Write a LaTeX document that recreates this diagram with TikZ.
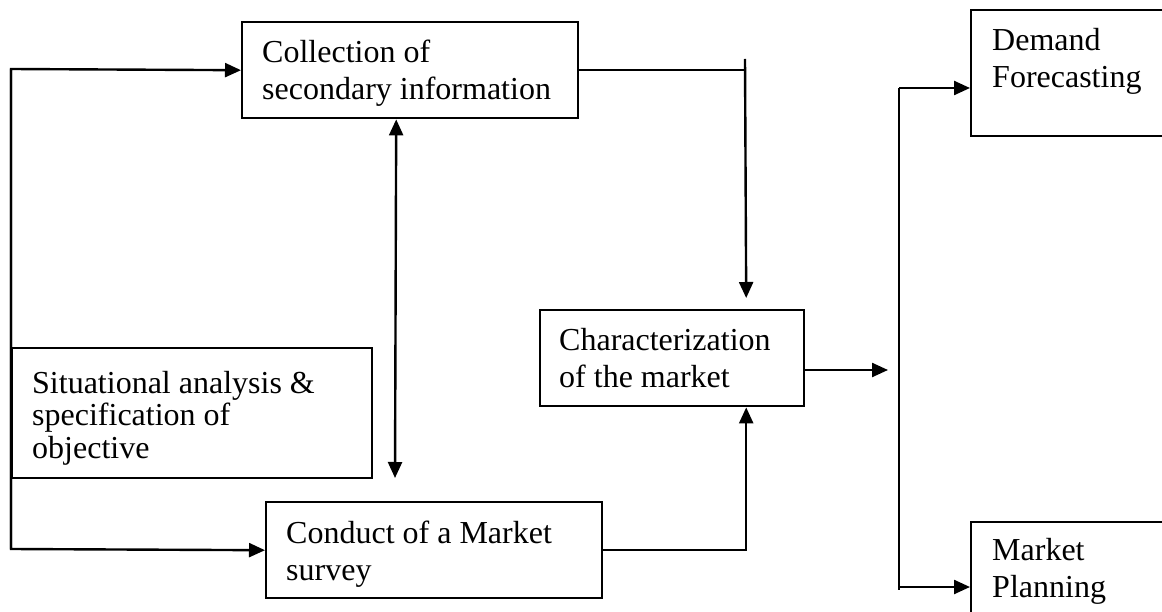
\documentclass[tikz,border=0pt]{standalone}
\usepackage{fontspec}
\setmainfont{Liberation Serif}
\usetikzlibrary{arrows.meta}
\newcommand{\firstline}{\rule{0pt}{26pt}}
\begin{document}
\begin{tikzpicture}[x=1pt,y=-1pt,
  blk/.style={draw, line width=2.4pt, anchor=north west, inner sep=0pt},
  txt/.style={anchor=north west, inner sep=0pt, align=left,
              font=\fontsize{32}{37}\selectfont},
  flow/.style={line width=2.4pt},
  tip/.tip={Triangle[length=16pt,width=14pt]},
  arr/.style={flow, -tip},
  arrboth/.style={flow, tip-tip}]

  % page area
  \fill[white] (0,0) rectangle (1162,612);
  \clip (0,0) rectangle (1162,612);

  % boxes
  \node[blk, minimum width=336pt, minimum height=96pt]  (coll) at (241,21)  {};
  \node[blk, minimum width=360pt, minimum height=130pt] (situ) at (11,347)  {};
  \node[blk, minimum width=336pt, minimum height=96pt]  (cond) at (265,501) {};
  \node[blk, minimum width=264pt, minimum height=96pt]  (char) at (539,309) {};
  \node[blk, minimum width=250pt, minimum height=126pt] (dem)  at (970,9)   {};
  \node[blk, minimum width=250pt, minimum height=120pt] (mkt)  at (970,521) {};

  % box texts
  \node[txt] (collt) at (262,36)  {\firstline Collection of\\secondary information};
  \node[txt, font=\fontsize{32}{32.5}\selectfont] (situt) at (32,367)
        {\firstline Situational analysis \&\\specification of\\objective};
  \node[txt] (condt) at (286,517) {\firstline Conduct of a Market\\survey};
  \node[txt] (chart) at (559,324) {\firstline Characterization\\of the market};
  \node[txt] (demt)  at (992,24)  {\firstline Demand\\Forecasting};
  \node[txt] (mktt)  at (992,534) {\firstline Market\\Planning};

  % junction points
  \coordinate (lt) at (11,69);
  \coordinate (lb) at (11,549);
  \coordinate (dt) at (745,59);
  \coordinate (dbot) at (395,478);
  \coordinate (ce) at (888,370);
  \coordinate (rt) at (899,88);
  \coordinate (rb) at (899,590);

  % left feed into the two information sources
  \draw[arr] (lb) -- (lt) -- (coll.west);
  \draw[arr] (lt) -- (lb) -- (cond.west);

  % secondary information <-> survey
  \draw[arrboth] ([xshift=-14pt]coll.south) -- (dbot);

  % both sources into the market characterization
  \draw[flow] (coll.east) -- (coll.east -| dt);
  \draw[arr] (dt) -- ([xshift=74pt,yshift=11pt]char.north);
  \draw[arr] (cond.east) -| ([xshift=74pt]char.south);

  % outputs
  \draw[arr] (char.east |- ce) -- (ce);
  \draw[flow] (rt) -- (rb);
  \draw[arr] (rt) -- (rt -| dem.west);
  \draw[arr] ([yshift=-499pt]rt) -- ([yshift=-499pt]rt -| mkt.west);
\end{tikzpicture}
\end{document}
